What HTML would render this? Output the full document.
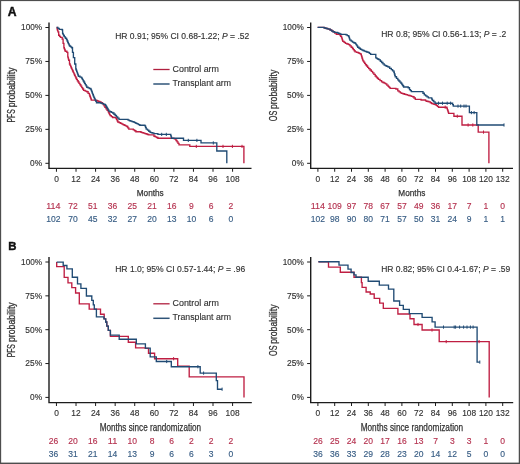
<!DOCTYPE html>
<html><head><meta charset="utf-8"><title>Kaplan-Meier curves</title>
<style>html,body{margin:0;padding:0;background:#fff;}svg{display:block;will-change:transform;} text{font-family:"Liberation Sans", sans-serif;}</style>
</head><body>
<svg width="520" height="464" viewBox="0 0 520 464">
<rect x="0" y="0" width="520" height="464" fill="#ffffff"/>
<text x="7.7" y="15.5" font-size="12.4" font-weight="bold" fill="#111" stroke="#111" stroke-width="0.45" textLength="8.8" lengthAdjust="spacingAndGlyphs">A</text>
<text x="8.3" y="250.0" font-size="11.4" font-weight="bold" fill="#111" stroke="#111" stroke-width="0.4">B</text>
<path d="M49 22.5 V168.35 H251.5" fill="none" stroke="#1c1c1c" stroke-width="1.4"/>
<line x1="45.4" y1="27.5" x2="49" y2="27.5" stroke="#1c1c1c" stroke-width="1"/>
<text x="42.1" y="30.4" font-size="8.7" fill="#333333" text-anchor="end" textLength="21" lengthAdjust="spacingAndGlyphs" stroke="#333333" stroke-width="0.15">100%</text>
<line x1="45.4" y1="61.45" x2="49" y2="61.45" stroke="#1c1c1c" stroke-width="1"/>
<text x="42.1" y="64.35" font-size="8.7" fill="#333333" text-anchor="end" textLength="16.8" lengthAdjust="spacingAndGlyphs" stroke="#333333" stroke-width="0.15">75%</text>
<line x1="45.4" y1="95.4" x2="49" y2="95.4" stroke="#1c1c1c" stroke-width="1"/>
<text x="42.1" y="98.3" font-size="8.7" fill="#333333" text-anchor="end" textLength="16.8" lengthAdjust="spacingAndGlyphs" stroke="#333333" stroke-width="0.15">50%</text>
<line x1="45.4" y1="129.35" x2="49" y2="129.35" stroke="#1c1c1c" stroke-width="1"/>
<text x="42.1" y="132.25" font-size="8.7" fill="#333333" text-anchor="end" textLength="16.8" lengthAdjust="spacingAndGlyphs" stroke="#333333" stroke-width="0.15">25%</text>
<line x1="45.4" y1="163.3" x2="49" y2="163.3" stroke="#1c1c1c" stroke-width="1"/>
<text x="42.1" y="166.2" font-size="8.7" fill="#333333" text-anchor="end" textLength="12" lengthAdjust="spacingAndGlyphs" stroke="#333333" stroke-width="0.15">0%</text>
<line x1="56.45" y1="168.35" x2="56.45" y2="171.75" stroke="#1c1c1c" stroke-width="1"/>
<text x="56.45" y="182.1" font-size="9.3" fill="#333333" text-anchor="middle" textLength="4.65" lengthAdjust="spacingAndGlyphs" stroke="#333333" stroke-width="0.15">0</text>
<text x="53.4" y="209" font-size="9.0" fill="#b53350" text-anchor="middle" textLength="14.25" lengthAdjust="spacingAndGlyphs" stroke="#b53350" stroke-width="0.15">114</text>
<text x="53.4" y="221.7" font-size="9.0" fill="#385d84" text-anchor="middle" textLength="14.25" lengthAdjust="spacingAndGlyphs" stroke="#385d84" stroke-width="0.15">102</text>
<line x1="76.02" y1="168.35" x2="76.02" y2="171.75" stroke="#1c1c1c" stroke-width="1"/>
<text x="76.02" y="182.1" font-size="9.3" fill="#333333" text-anchor="middle" textLength="9.3" lengthAdjust="spacingAndGlyphs" stroke="#333333" stroke-width="0.15">12</text>
<text x="73.12" y="209" font-size="9.0" fill="#b53350" text-anchor="middle" textLength="9.5" lengthAdjust="spacingAndGlyphs" stroke="#b53350" stroke-width="0.15">72</text>
<text x="73.12" y="221.7" font-size="9.0" fill="#385d84" text-anchor="middle" textLength="9.5" lengthAdjust="spacingAndGlyphs" stroke="#385d84" stroke-width="0.15">70</text>
<line x1="95.59" y1="168.35" x2="95.59" y2="171.75" stroke="#1c1c1c" stroke-width="1"/>
<text x="95.59" y="182.1" font-size="9.3" fill="#333333" text-anchor="middle" textLength="9.3" lengthAdjust="spacingAndGlyphs" stroke="#333333" stroke-width="0.15">24</text>
<text x="92.84" y="209" font-size="9.0" fill="#b53350" text-anchor="middle" textLength="9.5" lengthAdjust="spacingAndGlyphs" stroke="#b53350" stroke-width="0.15">51</text>
<text x="92.84" y="221.7" font-size="9.0" fill="#385d84" text-anchor="middle" textLength="9.5" lengthAdjust="spacingAndGlyphs" stroke="#385d84" stroke-width="0.15">45</text>
<line x1="115.16" y1="168.35" x2="115.16" y2="171.75" stroke="#1c1c1c" stroke-width="1"/>
<text x="115.16" y="182.1" font-size="9.3" fill="#333333" text-anchor="middle" textLength="9.3" lengthAdjust="spacingAndGlyphs" stroke="#333333" stroke-width="0.15">36</text>
<text x="112.56" y="209" font-size="9.0" fill="#b53350" text-anchor="middle" textLength="9.5" lengthAdjust="spacingAndGlyphs" stroke="#b53350" stroke-width="0.15">36</text>
<text x="112.56" y="221.7" font-size="9.0" fill="#385d84" text-anchor="middle" textLength="9.5" lengthAdjust="spacingAndGlyphs" stroke="#385d84" stroke-width="0.15">32</text>
<line x1="134.73" y1="168.35" x2="134.73" y2="171.75" stroke="#1c1c1c" stroke-width="1"/>
<text x="134.73" y="182.1" font-size="9.3" fill="#333333" text-anchor="middle" textLength="9.3" lengthAdjust="spacingAndGlyphs" stroke="#333333" stroke-width="0.15">48</text>
<text x="132.28" y="209" font-size="9.0" fill="#b53350" text-anchor="middle" textLength="9.5" lengthAdjust="spacingAndGlyphs" stroke="#b53350" stroke-width="0.15">25</text>
<text x="132.28" y="221.7" font-size="9.0" fill="#385d84" text-anchor="middle" textLength="9.5" lengthAdjust="spacingAndGlyphs" stroke="#385d84" stroke-width="0.15">27</text>
<line x1="154.3" y1="168.35" x2="154.3" y2="171.75" stroke="#1c1c1c" stroke-width="1"/>
<text x="154.3" y="182.1" font-size="9.3" fill="#333333" text-anchor="middle" textLength="9.3" lengthAdjust="spacingAndGlyphs" stroke="#333333" stroke-width="0.15">60</text>
<text x="152" y="209" font-size="9.0" fill="#b53350" text-anchor="middle" textLength="9.5" lengthAdjust="spacingAndGlyphs" stroke="#b53350" stroke-width="0.15">21</text>
<text x="152" y="221.7" font-size="9.0" fill="#385d84" text-anchor="middle" textLength="9.5" lengthAdjust="spacingAndGlyphs" stroke="#385d84" stroke-width="0.15">20</text>
<line x1="173.87" y1="168.35" x2="173.87" y2="171.75" stroke="#1c1c1c" stroke-width="1"/>
<text x="173.87" y="182.1" font-size="9.3" fill="#333333" text-anchor="middle" textLength="9.3" lengthAdjust="spacingAndGlyphs" stroke="#333333" stroke-width="0.15">72</text>
<text x="171.72" y="209" font-size="9.0" fill="#b53350" text-anchor="middle" textLength="9.5" lengthAdjust="spacingAndGlyphs" stroke="#b53350" stroke-width="0.15">16</text>
<text x="171.72" y="221.7" font-size="9.0" fill="#385d84" text-anchor="middle" textLength="9.5" lengthAdjust="spacingAndGlyphs" stroke="#385d84" stroke-width="0.15">13</text>
<line x1="193.44" y1="168.35" x2="193.44" y2="171.75" stroke="#1c1c1c" stroke-width="1"/>
<text x="193.44" y="182.1" font-size="9.3" fill="#333333" text-anchor="middle" textLength="9.3" lengthAdjust="spacingAndGlyphs" stroke="#333333" stroke-width="0.15">84</text>
<text x="191.44" y="209" font-size="9.0" fill="#b53350" text-anchor="middle" textLength="4.75" lengthAdjust="spacingAndGlyphs" stroke="#b53350" stroke-width="0.15">9</text>
<text x="191.44" y="221.7" font-size="9.0" fill="#385d84" text-anchor="middle" textLength="9.5" lengthAdjust="spacingAndGlyphs" stroke="#385d84" stroke-width="0.15">10</text>
<line x1="213.01" y1="168.35" x2="213.01" y2="171.75" stroke="#1c1c1c" stroke-width="1"/>
<text x="213.01" y="182.1" font-size="9.3" fill="#333333" text-anchor="middle" textLength="9.3" lengthAdjust="spacingAndGlyphs" stroke="#333333" stroke-width="0.15">96</text>
<text x="211.16" y="209" font-size="9.0" fill="#b53350" text-anchor="middle" textLength="4.75" lengthAdjust="spacingAndGlyphs" stroke="#b53350" stroke-width="0.15">6</text>
<text x="211.16" y="221.7" font-size="9.0" fill="#385d84" text-anchor="middle" textLength="4.75" lengthAdjust="spacingAndGlyphs" stroke="#385d84" stroke-width="0.15">6</text>
<line x1="232.58" y1="168.35" x2="232.58" y2="171.75" stroke="#1c1c1c" stroke-width="1"/>
<text x="232.58" y="182.1" font-size="9.3" fill="#333333" text-anchor="middle" textLength="13.95" lengthAdjust="spacingAndGlyphs" stroke="#333333" stroke-width="0.15">108</text>
<text x="230.88" y="209" font-size="9.0" fill="#b53350" text-anchor="middle" textLength="4.75" lengthAdjust="spacingAndGlyphs" stroke="#b53350" stroke-width="0.15">2</text>
<text x="230.88" y="221.7" font-size="9.0" fill="#385d84" text-anchor="middle" textLength="4.75" lengthAdjust="spacingAndGlyphs" stroke="#385d84" stroke-width="0.15">0</text>
<text x="136.75" y="196.2" font-size="9.8" fill="#333333" stroke="#333333" stroke-width="0.25" textLength="27" lengthAdjust="spacingAndGlyphs">Months</text>
<text transform="translate(15 122.5) rotate(-90)" x="0" y="0" font-size="10.0" fill="#333333" stroke="#333333" stroke-width="0.28" textLength="13.2" lengthAdjust="spacingAndGlyphs">PFS</text>
<text transform="translate(15 107.25) rotate(-90)" x="0" y="0" font-size="10.0" fill="#333333" stroke="#333333" stroke-width="0.28" textLength="39.8" lengthAdjust="spacingAndGlyphs">probability</text>
<text x="115.2" y="38.75" font-size="8.9" fill="#333333" textLength="134" lengthAdjust="spacingAndGlyphs" stroke="#333333" stroke-width="0.15">HR 0.91; 95% CI 0.68-1.22; <tspan font-style="italic">P</tspan> = .52</text>
<line x1="153.3" y1="69.5" x2="169.6" y2="69.5" stroke="#b0203f" stroke-width="1.3"/>
<line x1="153.3" y1="84" x2="169.6" y2="84" stroke="#2f5478" stroke-width="1.5"/>
<text x="172.5" y="71.8" font-size="9.6" fill="#333333" textLength="46.5" lengthAdjust="spacingAndGlyphs" stroke="#333333" stroke-width="0.15">Control arm</text>
<text x="172.5" y="85.8" font-size="9.6" fill="#333333" textLength="58.5" lengthAdjust="spacingAndGlyphs" stroke="#333333" stroke-width="0.15">Transplant arm</text>
<path d="M310.7 22.5 V168.35 H513" fill="none" stroke="#1c1c1c" stroke-width="1.4"/>
<line x1="307.1" y1="27.5" x2="310.7" y2="27.5" stroke="#1c1c1c" stroke-width="1"/>
<text x="303.8" y="30.4" font-size="8.7" fill="#333333" text-anchor="end" textLength="21" lengthAdjust="spacingAndGlyphs" stroke="#333333" stroke-width="0.15">100%</text>
<line x1="307.1" y1="61.45" x2="310.7" y2="61.45" stroke="#1c1c1c" stroke-width="1"/>
<text x="303.8" y="64.35" font-size="8.7" fill="#333333" text-anchor="end" textLength="16.8" lengthAdjust="spacingAndGlyphs" stroke="#333333" stroke-width="0.15">75%</text>
<line x1="307.1" y1="95.4" x2="310.7" y2="95.4" stroke="#1c1c1c" stroke-width="1"/>
<text x="303.8" y="98.3" font-size="8.7" fill="#333333" text-anchor="end" textLength="16.8" lengthAdjust="spacingAndGlyphs" stroke="#333333" stroke-width="0.15">50%</text>
<line x1="307.1" y1="129.35" x2="310.7" y2="129.35" stroke="#1c1c1c" stroke-width="1"/>
<text x="303.8" y="132.25" font-size="8.7" fill="#333333" text-anchor="end" textLength="16.8" lengthAdjust="spacingAndGlyphs" stroke="#333333" stroke-width="0.15">25%</text>
<line x1="307.1" y1="163.3" x2="310.7" y2="163.3" stroke="#1c1c1c" stroke-width="1"/>
<text x="303.8" y="166.2" font-size="8.7" fill="#333333" text-anchor="end" textLength="12" lengthAdjust="spacingAndGlyphs" stroke="#333333" stroke-width="0.15">0%</text>
<line x1="317.9" y1="168.35" x2="317.9" y2="171.75" stroke="#1c1c1c" stroke-width="1"/>
<text x="317.9" y="182.1" font-size="9.3" fill="#333333" text-anchor="middle" textLength="4.65" lengthAdjust="spacingAndGlyphs" stroke="#333333" stroke-width="0.15">0</text>
<text x="317.9" y="209.1" font-size="9.0" fill="#b53350" text-anchor="middle" textLength="14.25" lengthAdjust="spacingAndGlyphs" stroke="#b53350" stroke-width="0.15">114</text>
<text x="317.9" y="221.8" font-size="9.0" fill="#385d84" text-anchor="middle" textLength="14.25" lengthAdjust="spacingAndGlyphs" stroke="#385d84" stroke-width="0.15">102</text>
<line x1="334.7" y1="168.35" x2="334.7" y2="171.75" stroke="#1c1c1c" stroke-width="1"/>
<text x="334.7" y="182.1" font-size="9.3" fill="#333333" text-anchor="middle" textLength="9.3" lengthAdjust="spacingAndGlyphs" stroke="#333333" stroke-width="0.15">12</text>
<text x="334.7" y="209.1" font-size="9.0" fill="#b53350" text-anchor="middle" textLength="14.25" lengthAdjust="spacingAndGlyphs" stroke="#b53350" stroke-width="0.15">109</text>
<text x="334.7" y="221.8" font-size="9.0" fill="#385d84" text-anchor="middle" textLength="9.5" lengthAdjust="spacingAndGlyphs" stroke="#385d84" stroke-width="0.15">98</text>
<line x1="351.5" y1="168.35" x2="351.5" y2="171.75" stroke="#1c1c1c" stroke-width="1"/>
<text x="351.5" y="182.1" font-size="9.3" fill="#333333" text-anchor="middle" textLength="9.3" lengthAdjust="spacingAndGlyphs" stroke="#333333" stroke-width="0.15">24</text>
<text x="351.5" y="209.1" font-size="9.0" fill="#b53350" text-anchor="middle" textLength="9.5" lengthAdjust="spacingAndGlyphs" stroke="#b53350" stroke-width="0.15">97</text>
<text x="351.5" y="221.8" font-size="9.0" fill="#385d84" text-anchor="middle" textLength="9.5" lengthAdjust="spacingAndGlyphs" stroke="#385d84" stroke-width="0.15">90</text>
<line x1="368.3" y1="168.35" x2="368.3" y2="171.75" stroke="#1c1c1c" stroke-width="1"/>
<text x="368.3" y="182.1" font-size="9.3" fill="#333333" text-anchor="middle" textLength="9.3" lengthAdjust="spacingAndGlyphs" stroke="#333333" stroke-width="0.15">36</text>
<text x="368.3" y="209.1" font-size="9.0" fill="#b53350" text-anchor="middle" textLength="9.5" lengthAdjust="spacingAndGlyphs" stroke="#b53350" stroke-width="0.15">78</text>
<text x="368.3" y="221.8" font-size="9.0" fill="#385d84" text-anchor="middle" textLength="9.5" lengthAdjust="spacingAndGlyphs" stroke="#385d84" stroke-width="0.15">80</text>
<line x1="385.1" y1="168.35" x2="385.1" y2="171.75" stroke="#1c1c1c" stroke-width="1"/>
<text x="385.1" y="182.1" font-size="9.3" fill="#333333" text-anchor="middle" textLength="9.3" lengthAdjust="spacingAndGlyphs" stroke="#333333" stroke-width="0.15">48</text>
<text x="385.1" y="209.1" font-size="9.0" fill="#b53350" text-anchor="middle" textLength="9.5" lengthAdjust="spacingAndGlyphs" stroke="#b53350" stroke-width="0.15">67</text>
<text x="385.1" y="221.8" font-size="9.0" fill="#385d84" text-anchor="middle" textLength="9.5" lengthAdjust="spacingAndGlyphs" stroke="#385d84" stroke-width="0.15">71</text>
<line x1="401.9" y1="168.35" x2="401.9" y2="171.75" stroke="#1c1c1c" stroke-width="1"/>
<text x="401.9" y="182.1" font-size="9.3" fill="#333333" text-anchor="middle" textLength="9.3" lengthAdjust="spacingAndGlyphs" stroke="#333333" stroke-width="0.15">60</text>
<text x="401.9" y="209.1" font-size="9.0" fill="#b53350" text-anchor="middle" textLength="9.5" lengthAdjust="spacingAndGlyphs" stroke="#b53350" stroke-width="0.15">57</text>
<text x="401.9" y="221.8" font-size="9.0" fill="#385d84" text-anchor="middle" textLength="9.5" lengthAdjust="spacingAndGlyphs" stroke="#385d84" stroke-width="0.15">57</text>
<line x1="418.7" y1="168.35" x2="418.7" y2="171.75" stroke="#1c1c1c" stroke-width="1"/>
<text x="418.7" y="182.1" font-size="9.3" fill="#333333" text-anchor="middle" textLength="9.3" lengthAdjust="spacingAndGlyphs" stroke="#333333" stroke-width="0.15">72</text>
<text x="418.7" y="209.1" font-size="9.0" fill="#b53350" text-anchor="middle" textLength="9.5" lengthAdjust="spacingAndGlyphs" stroke="#b53350" stroke-width="0.15">49</text>
<text x="418.7" y="221.8" font-size="9.0" fill="#385d84" text-anchor="middle" textLength="9.5" lengthAdjust="spacingAndGlyphs" stroke="#385d84" stroke-width="0.15">50</text>
<line x1="435.5" y1="168.35" x2="435.5" y2="171.75" stroke="#1c1c1c" stroke-width="1"/>
<text x="435.5" y="182.1" font-size="9.3" fill="#333333" text-anchor="middle" textLength="9.3" lengthAdjust="spacingAndGlyphs" stroke="#333333" stroke-width="0.15">84</text>
<text x="435.5" y="209.1" font-size="9.0" fill="#b53350" text-anchor="middle" textLength="9.5" lengthAdjust="spacingAndGlyphs" stroke="#b53350" stroke-width="0.15">36</text>
<text x="435.5" y="221.8" font-size="9.0" fill="#385d84" text-anchor="middle" textLength="9.5" lengthAdjust="spacingAndGlyphs" stroke="#385d84" stroke-width="0.15">31</text>
<line x1="452.3" y1="168.35" x2="452.3" y2="171.75" stroke="#1c1c1c" stroke-width="1"/>
<text x="452.3" y="182.1" font-size="9.3" fill="#333333" text-anchor="middle" textLength="9.3" lengthAdjust="spacingAndGlyphs" stroke="#333333" stroke-width="0.15">96</text>
<text x="452.3" y="209.1" font-size="9.0" fill="#b53350" text-anchor="middle" textLength="9.5" lengthAdjust="spacingAndGlyphs" stroke="#b53350" stroke-width="0.15">17</text>
<text x="452.3" y="221.8" font-size="9.0" fill="#385d84" text-anchor="middle" textLength="9.5" lengthAdjust="spacingAndGlyphs" stroke="#385d84" stroke-width="0.15">24</text>
<line x1="469.1" y1="168.35" x2="469.1" y2="171.75" stroke="#1c1c1c" stroke-width="1"/>
<text x="469.1" y="182.1" font-size="9.3" fill="#333333" text-anchor="middle" textLength="13.95" lengthAdjust="spacingAndGlyphs" stroke="#333333" stroke-width="0.15">108</text>
<text x="469.1" y="209.1" font-size="9.0" fill="#b53350" text-anchor="middle" textLength="4.75" lengthAdjust="spacingAndGlyphs" stroke="#b53350" stroke-width="0.15">7</text>
<text x="469.1" y="221.8" font-size="9.0" fill="#385d84" text-anchor="middle" textLength="4.75" lengthAdjust="spacingAndGlyphs" stroke="#385d84" stroke-width="0.15">9</text>
<line x1="485.9" y1="168.35" x2="485.9" y2="171.75" stroke="#1c1c1c" stroke-width="1"/>
<text x="485.9" y="182.1" font-size="9.3" fill="#333333" text-anchor="middle" textLength="13.95" lengthAdjust="spacingAndGlyphs" stroke="#333333" stroke-width="0.15">120</text>
<text x="485.9" y="209.1" font-size="9.0" fill="#b53350" text-anchor="middle" textLength="4.75" lengthAdjust="spacingAndGlyphs" stroke="#b53350" stroke-width="0.15">1</text>
<text x="485.9" y="221.8" font-size="9.0" fill="#385d84" text-anchor="middle" textLength="4.75" lengthAdjust="spacingAndGlyphs" stroke="#385d84" stroke-width="0.15">1</text>
<line x1="502.7" y1="168.35" x2="502.7" y2="171.75" stroke="#1c1c1c" stroke-width="1"/>
<text x="502.7" y="182.1" font-size="9.3" fill="#333333" text-anchor="middle" textLength="13.95" lengthAdjust="spacingAndGlyphs" stroke="#333333" stroke-width="0.15">132</text>
<text x="502.7" y="209.1" font-size="9.0" fill="#b53350" text-anchor="middle" textLength="4.75" lengthAdjust="spacingAndGlyphs" stroke="#b53350" stroke-width="0.15">0</text>
<text x="502.7" y="221.8" font-size="9.0" fill="#385d84" text-anchor="middle" textLength="4.75" lengthAdjust="spacingAndGlyphs" stroke="#385d84" stroke-width="0.15">1</text>
<text x="398.35" y="196.2" font-size="9.8" fill="#333333" stroke="#333333" stroke-width="0.25" textLength="27" lengthAdjust="spacingAndGlyphs">Months</text>
<text transform="translate(277.1 121.2) rotate(-90)" x="0" y="0" font-size="10.0" fill="#333333" stroke="#333333" stroke-width="0.28" textLength="10.5" lengthAdjust="spacingAndGlyphs">OS</text>
<text transform="translate(277.1 109.05) rotate(-90)" x="0" y="0" font-size="10.0" fill="#333333" stroke="#333333" stroke-width="0.28" textLength="39.3" lengthAdjust="spacingAndGlyphs">probability</text>
<text x="381.2" y="36.95" font-size="8.9" fill="#333333" textLength="125" lengthAdjust="spacingAndGlyphs" stroke="#333333" stroke-width="0.15">HR 0.8; 95% CI 0.56-1.13; <tspan font-style="italic">P</tspan> = .2</text>
<path d="M49 257.1 V402.6 H251.8" fill="none" stroke="#1c1c1c" stroke-width="1.4"/>
<line x1="45.4" y1="262" x2="49" y2="262" stroke="#1c1c1c" stroke-width="1"/>
<text x="42.1" y="264.9" font-size="8.7" fill="#333333" text-anchor="end" textLength="21" lengthAdjust="spacingAndGlyphs" stroke="#333333" stroke-width="0.15">100%</text>
<line x1="45.4" y1="295.85" x2="49" y2="295.85" stroke="#1c1c1c" stroke-width="1"/>
<text x="42.1" y="298.75" font-size="8.7" fill="#333333" text-anchor="end" textLength="16.8" lengthAdjust="spacingAndGlyphs" stroke="#333333" stroke-width="0.15">75%</text>
<line x1="45.4" y1="329.7" x2="49" y2="329.7" stroke="#1c1c1c" stroke-width="1"/>
<text x="42.1" y="332.6" font-size="8.7" fill="#333333" text-anchor="end" textLength="16.8" lengthAdjust="spacingAndGlyphs" stroke="#333333" stroke-width="0.15">50%</text>
<line x1="45.4" y1="363.55" x2="49" y2="363.55" stroke="#1c1c1c" stroke-width="1"/>
<text x="42.1" y="366.45" font-size="8.7" fill="#333333" text-anchor="end" textLength="16.8" lengthAdjust="spacingAndGlyphs" stroke="#333333" stroke-width="0.15">25%</text>
<line x1="45.4" y1="397.4" x2="49" y2="397.4" stroke="#1c1c1c" stroke-width="1"/>
<text x="42.1" y="400.3" font-size="8.7" fill="#333333" text-anchor="end" textLength="12" lengthAdjust="spacingAndGlyphs" stroke="#333333" stroke-width="0.15">0%</text>
<line x1="56.45" y1="402.6" x2="56.45" y2="406" stroke="#1c1c1c" stroke-width="1"/>
<text x="56.45" y="416.2" font-size="9.3" fill="#333333" text-anchor="middle" textLength="4.65" lengthAdjust="spacingAndGlyphs" stroke="#333333" stroke-width="0.15">0</text>
<text x="53.4" y="443.5" font-size="9.0" fill="#b53350" text-anchor="middle" textLength="9.5" lengthAdjust="spacingAndGlyphs" stroke="#b53350" stroke-width="0.15">26</text>
<text x="53.4" y="456.8" font-size="9.0" fill="#385d84" text-anchor="middle" textLength="9.5" lengthAdjust="spacingAndGlyphs" stroke="#385d84" stroke-width="0.15">36</text>
<line x1="76.02" y1="402.6" x2="76.02" y2="406" stroke="#1c1c1c" stroke-width="1"/>
<text x="76.02" y="416.2" font-size="9.3" fill="#333333" text-anchor="middle" textLength="9.3" lengthAdjust="spacingAndGlyphs" stroke="#333333" stroke-width="0.15">12</text>
<text x="73.12" y="443.5" font-size="9.0" fill="#b53350" text-anchor="middle" textLength="9.5" lengthAdjust="spacingAndGlyphs" stroke="#b53350" stroke-width="0.15">20</text>
<text x="73.12" y="456.8" font-size="9.0" fill="#385d84" text-anchor="middle" textLength="9.5" lengthAdjust="spacingAndGlyphs" stroke="#385d84" stroke-width="0.15">31</text>
<line x1="95.59" y1="402.6" x2="95.59" y2="406" stroke="#1c1c1c" stroke-width="1"/>
<text x="95.59" y="416.2" font-size="9.3" fill="#333333" text-anchor="middle" textLength="9.3" lengthAdjust="spacingAndGlyphs" stroke="#333333" stroke-width="0.15">24</text>
<text x="92.84" y="443.5" font-size="9.0" fill="#b53350" text-anchor="middle" textLength="9.5" lengthAdjust="spacingAndGlyphs" stroke="#b53350" stroke-width="0.15">16</text>
<text x="92.84" y="456.8" font-size="9.0" fill="#385d84" text-anchor="middle" textLength="9.5" lengthAdjust="spacingAndGlyphs" stroke="#385d84" stroke-width="0.15">21</text>
<line x1="115.16" y1="402.6" x2="115.16" y2="406" stroke="#1c1c1c" stroke-width="1"/>
<text x="115.16" y="416.2" font-size="9.3" fill="#333333" text-anchor="middle" textLength="9.3" lengthAdjust="spacingAndGlyphs" stroke="#333333" stroke-width="0.15">36</text>
<text x="112.56" y="443.5" font-size="9.0" fill="#b53350" text-anchor="middle" textLength="9.5" lengthAdjust="spacingAndGlyphs" stroke="#b53350" stroke-width="0.15">11</text>
<text x="112.56" y="456.8" font-size="9.0" fill="#385d84" text-anchor="middle" textLength="9.5" lengthAdjust="spacingAndGlyphs" stroke="#385d84" stroke-width="0.15">14</text>
<line x1="134.73" y1="402.6" x2="134.73" y2="406" stroke="#1c1c1c" stroke-width="1"/>
<text x="134.73" y="416.2" font-size="9.3" fill="#333333" text-anchor="middle" textLength="9.3" lengthAdjust="spacingAndGlyphs" stroke="#333333" stroke-width="0.15">48</text>
<text x="132.28" y="443.5" font-size="9.0" fill="#b53350" text-anchor="middle" textLength="9.5" lengthAdjust="spacingAndGlyphs" stroke="#b53350" stroke-width="0.15">10</text>
<text x="132.28" y="456.8" font-size="9.0" fill="#385d84" text-anchor="middle" textLength="9.5" lengthAdjust="spacingAndGlyphs" stroke="#385d84" stroke-width="0.15">13</text>
<line x1="154.3" y1="402.6" x2="154.3" y2="406" stroke="#1c1c1c" stroke-width="1"/>
<text x="154.3" y="416.2" font-size="9.3" fill="#333333" text-anchor="middle" textLength="9.3" lengthAdjust="spacingAndGlyphs" stroke="#333333" stroke-width="0.15">60</text>
<text x="152" y="443.5" font-size="9.0" fill="#b53350" text-anchor="middle" textLength="4.75" lengthAdjust="spacingAndGlyphs" stroke="#b53350" stroke-width="0.15">8</text>
<text x="152" y="456.8" font-size="9.0" fill="#385d84" text-anchor="middle" textLength="4.75" lengthAdjust="spacingAndGlyphs" stroke="#385d84" stroke-width="0.15">9</text>
<line x1="173.87" y1="402.6" x2="173.87" y2="406" stroke="#1c1c1c" stroke-width="1"/>
<text x="173.87" y="416.2" font-size="9.3" fill="#333333" text-anchor="middle" textLength="9.3" lengthAdjust="spacingAndGlyphs" stroke="#333333" stroke-width="0.15">72</text>
<text x="171.72" y="443.5" font-size="9.0" fill="#b53350" text-anchor="middle" textLength="4.75" lengthAdjust="spacingAndGlyphs" stroke="#b53350" stroke-width="0.15">6</text>
<text x="171.72" y="456.8" font-size="9.0" fill="#385d84" text-anchor="middle" textLength="4.75" lengthAdjust="spacingAndGlyphs" stroke="#385d84" stroke-width="0.15">6</text>
<line x1="193.44" y1="402.6" x2="193.44" y2="406" stroke="#1c1c1c" stroke-width="1"/>
<text x="193.44" y="416.2" font-size="9.3" fill="#333333" text-anchor="middle" textLength="9.3" lengthAdjust="spacingAndGlyphs" stroke="#333333" stroke-width="0.15">84</text>
<text x="191.44" y="443.5" font-size="9.0" fill="#b53350" text-anchor="middle" textLength="4.75" lengthAdjust="spacingAndGlyphs" stroke="#b53350" stroke-width="0.15">2</text>
<text x="191.44" y="456.8" font-size="9.0" fill="#385d84" text-anchor="middle" textLength="4.75" lengthAdjust="spacingAndGlyphs" stroke="#385d84" stroke-width="0.15">6</text>
<line x1="213.01" y1="402.6" x2="213.01" y2="406" stroke="#1c1c1c" stroke-width="1"/>
<text x="213.01" y="416.2" font-size="9.3" fill="#333333" text-anchor="middle" textLength="9.3" lengthAdjust="spacingAndGlyphs" stroke="#333333" stroke-width="0.15">96</text>
<text x="211.16" y="443.5" font-size="9.0" fill="#b53350" text-anchor="middle" textLength="4.75" lengthAdjust="spacingAndGlyphs" stroke="#b53350" stroke-width="0.15">2</text>
<text x="211.16" y="456.8" font-size="9.0" fill="#385d84" text-anchor="middle" textLength="4.75" lengthAdjust="spacingAndGlyphs" stroke="#385d84" stroke-width="0.15">3</text>
<line x1="232.58" y1="402.6" x2="232.58" y2="406" stroke="#1c1c1c" stroke-width="1"/>
<text x="232.58" y="416.2" font-size="9.3" fill="#333333" text-anchor="middle" textLength="13.95" lengthAdjust="spacingAndGlyphs" stroke="#333333" stroke-width="0.15">108</text>
<text x="230.88" y="443.5" font-size="9.0" fill="#b53350" text-anchor="middle" textLength="4.75" lengthAdjust="spacingAndGlyphs" stroke="#b53350" stroke-width="0.15">2</text>
<text x="230.88" y="456.8" font-size="9.0" fill="#385d84" text-anchor="middle" textLength="4.75" lengthAdjust="spacingAndGlyphs" stroke="#385d84" stroke-width="0.15">0</text>
<text x="99.7" y="430.6" font-size="10.3" fill="#333333" stroke="#333333" stroke-width="0.25" textLength="101.4" lengthAdjust="spacingAndGlyphs">Months since randomization</text>
<text transform="translate(15 357.3) rotate(-90)" x="0" y="0" font-size="10.0" fill="#333333" stroke="#333333" stroke-width="0.28" textLength="13.2" lengthAdjust="spacingAndGlyphs">PFS</text>
<text transform="translate(15 342.05) rotate(-90)" x="0" y="0" font-size="10.0" fill="#333333" stroke="#333333" stroke-width="0.28" textLength="39.8" lengthAdjust="spacingAndGlyphs">probability</text>
<text x="115.2" y="271.75" font-size="8.9" fill="#333333" textLength="130" lengthAdjust="spacingAndGlyphs" stroke="#333333" stroke-width="0.15">HR 1.0; 95% CI 0.57-1.44; <tspan font-style="italic">P</tspan> = .96</text>
<line x1="153.3" y1="303.8" x2="169.6" y2="303.8" stroke="#b0203f" stroke-width="1.3"/>
<line x1="153.3" y1="318.3" x2="169.6" y2="318.3" stroke="#2f5478" stroke-width="1.5"/>
<text x="172.5" y="306.1" font-size="9.6" fill="#333333" textLength="46.5" lengthAdjust="spacingAndGlyphs" stroke="#333333" stroke-width="0.15">Control arm</text>
<text x="172.5" y="320.1" font-size="9.6" fill="#333333" textLength="58.5" lengthAdjust="spacingAndGlyphs" stroke="#333333" stroke-width="0.15">Transplant arm</text>
<path d="M310.7 257.1 V402.6 H513.2" fill="none" stroke="#1c1c1c" stroke-width="1.4"/>
<line x1="307.1" y1="262" x2="310.7" y2="262" stroke="#1c1c1c" stroke-width="1"/>
<text x="303.8" y="264.9" font-size="8.7" fill="#333333" text-anchor="end" textLength="21" lengthAdjust="spacingAndGlyphs" stroke="#333333" stroke-width="0.15">100%</text>
<line x1="307.1" y1="295.85" x2="310.7" y2="295.85" stroke="#1c1c1c" stroke-width="1"/>
<text x="303.8" y="298.75" font-size="8.7" fill="#333333" text-anchor="end" textLength="16.8" lengthAdjust="spacingAndGlyphs" stroke="#333333" stroke-width="0.15">75%</text>
<line x1="307.1" y1="329.7" x2="310.7" y2="329.7" stroke="#1c1c1c" stroke-width="1"/>
<text x="303.8" y="332.6" font-size="8.7" fill="#333333" text-anchor="end" textLength="16.8" lengthAdjust="spacingAndGlyphs" stroke="#333333" stroke-width="0.15">50%</text>
<line x1="307.1" y1="363.55" x2="310.7" y2="363.55" stroke="#1c1c1c" stroke-width="1"/>
<text x="303.8" y="366.45" font-size="8.7" fill="#333333" text-anchor="end" textLength="16.8" lengthAdjust="spacingAndGlyphs" stroke="#333333" stroke-width="0.15">25%</text>
<line x1="307.1" y1="397.4" x2="310.7" y2="397.4" stroke="#1c1c1c" stroke-width="1"/>
<text x="303.8" y="400.3" font-size="8.7" fill="#333333" text-anchor="end" textLength="12" lengthAdjust="spacingAndGlyphs" stroke="#333333" stroke-width="0.15">0%</text>
<line x1="317.9" y1="402.6" x2="317.9" y2="406" stroke="#1c1c1c" stroke-width="1"/>
<text x="317.9" y="416.2" font-size="9.3" fill="#333333" text-anchor="middle" textLength="4.65" lengthAdjust="spacingAndGlyphs" stroke="#333333" stroke-width="0.15">0</text>
<text x="317.9" y="443.5" font-size="9.0" fill="#b53350" text-anchor="middle" textLength="9.5" lengthAdjust="spacingAndGlyphs" stroke="#b53350" stroke-width="0.15">26</text>
<text x="317.9" y="456.8" font-size="9.0" fill="#385d84" text-anchor="middle" textLength="9.5" lengthAdjust="spacingAndGlyphs" stroke="#385d84" stroke-width="0.15">36</text>
<line x1="334.7" y1="402.6" x2="334.7" y2="406" stroke="#1c1c1c" stroke-width="1"/>
<text x="334.7" y="416.2" font-size="9.3" fill="#333333" text-anchor="middle" textLength="9.3" lengthAdjust="spacingAndGlyphs" stroke="#333333" stroke-width="0.15">12</text>
<text x="334.7" y="443.5" font-size="9.0" fill="#b53350" text-anchor="middle" textLength="9.5" lengthAdjust="spacingAndGlyphs" stroke="#b53350" stroke-width="0.15">25</text>
<text x="334.7" y="456.8" font-size="9.0" fill="#385d84" text-anchor="middle" textLength="9.5" lengthAdjust="spacingAndGlyphs" stroke="#385d84" stroke-width="0.15">36</text>
<line x1="351.5" y1="402.6" x2="351.5" y2="406" stroke="#1c1c1c" stroke-width="1"/>
<text x="351.5" y="416.2" font-size="9.3" fill="#333333" text-anchor="middle" textLength="9.3" lengthAdjust="spacingAndGlyphs" stroke="#333333" stroke-width="0.15">24</text>
<text x="351.5" y="443.5" font-size="9.0" fill="#b53350" text-anchor="middle" textLength="9.5" lengthAdjust="spacingAndGlyphs" stroke="#b53350" stroke-width="0.15">24</text>
<text x="351.5" y="456.8" font-size="9.0" fill="#385d84" text-anchor="middle" textLength="9.5" lengthAdjust="spacingAndGlyphs" stroke="#385d84" stroke-width="0.15">33</text>
<line x1="368.3" y1="402.6" x2="368.3" y2="406" stroke="#1c1c1c" stroke-width="1"/>
<text x="368.3" y="416.2" font-size="9.3" fill="#333333" text-anchor="middle" textLength="9.3" lengthAdjust="spacingAndGlyphs" stroke="#333333" stroke-width="0.15">36</text>
<text x="368.3" y="443.5" font-size="9.0" fill="#b53350" text-anchor="middle" textLength="9.5" lengthAdjust="spacingAndGlyphs" stroke="#b53350" stroke-width="0.15">20</text>
<text x="368.3" y="456.8" font-size="9.0" fill="#385d84" text-anchor="middle" textLength="9.5" lengthAdjust="spacingAndGlyphs" stroke="#385d84" stroke-width="0.15">29</text>
<line x1="385.1" y1="402.6" x2="385.1" y2="406" stroke="#1c1c1c" stroke-width="1"/>
<text x="385.1" y="416.2" font-size="9.3" fill="#333333" text-anchor="middle" textLength="9.3" lengthAdjust="spacingAndGlyphs" stroke="#333333" stroke-width="0.15">48</text>
<text x="385.1" y="443.5" font-size="9.0" fill="#b53350" text-anchor="middle" textLength="9.5" lengthAdjust="spacingAndGlyphs" stroke="#b53350" stroke-width="0.15">17</text>
<text x="385.1" y="456.8" font-size="9.0" fill="#385d84" text-anchor="middle" textLength="9.5" lengthAdjust="spacingAndGlyphs" stroke="#385d84" stroke-width="0.15">28</text>
<line x1="401.9" y1="402.6" x2="401.9" y2="406" stroke="#1c1c1c" stroke-width="1"/>
<text x="401.9" y="416.2" font-size="9.3" fill="#333333" text-anchor="middle" textLength="9.3" lengthAdjust="spacingAndGlyphs" stroke="#333333" stroke-width="0.15">60</text>
<text x="401.9" y="443.5" font-size="9.0" fill="#b53350" text-anchor="middle" textLength="9.5" lengthAdjust="spacingAndGlyphs" stroke="#b53350" stroke-width="0.15">16</text>
<text x="401.9" y="456.8" font-size="9.0" fill="#385d84" text-anchor="middle" textLength="9.5" lengthAdjust="spacingAndGlyphs" stroke="#385d84" stroke-width="0.15">23</text>
<line x1="418.7" y1="402.6" x2="418.7" y2="406" stroke="#1c1c1c" stroke-width="1"/>
<text x="418.7" y="416.2" font-size="9.3" fill="#333333" text-anchor="middle" textLength="9.3" lengthAdjust="spacingAndGlyphs" stroke="#333333" stroke-width="0.15">72</text>
<text x="418.7" y="443.5" font-size="9.0" fill="#b53350" text-anchor="middle" textLength="9.5" lengthAdjust="spacingAndGlyphs" stroke="#b53350" stroke-width="0.15">13</text>
<text x="418.7" y="456.8" font-size="9.0" fill="#385d84" text-anchor="middle" textLength="9.5" lengthAdjust="spacingAndGlyphs" stroke="#385d84" stroke-width="0.15">20</text>
<line x1="435.5" y1="402.6" x2="435.5" y2="406" stroke="#1c1c1c" stroke-width="1"/>
<text x="435.5" y="416.2" font-size="9.3" fill="#333333" text-anchor="middle" textLength="9.3" lengthAdjust="spacingAndGlyphs" stroke="#333333" stroke-width="0.15">84</text>
<text x="435.5" y="443.5" font-size="9.0" fill="#b53350" text-anchor="middle" textLength="4.75" lengthAdjust="spacingAndGlyphs" stroke="#b53350" stroke-width="0.15">7</text>
<text x="435.5" y="456.8" font-size="9.0" fill="#385d84" text-anchor="middle" textLength="9.5" lengthAdjust="spacingAndGlyphs" stroke="#385d84" stroke-width="0.15">14</text>
<line x1="452.3" y1="402.6" x2="452.3" y2="406" stroke="#1c1c1c" stroke-width="1"/>
<text x="452.3" y="416.2" font-size="9.3" fill="#333333" text-anchor="middle" textLength="9.3" lengthAdjust="spacingAndGlyphs" stroke="#333333" stroke-width="0.15">96</text>
<text x="452.3" y="443.5" font-size="9.0" fill="#b53350" text-anchor="middle" textLength="4.75" lengthAdjust="spacingAndGlyphs" stroke="#b53350" stroke-width="0.15">3</text>
<text x="452.3" y="456.8" font-size="9.0" fill="#385d84" text-anchor="middle" textLength="9.5" lengthAdjust="spacingAndGlyphs" stroke="#385d84" stroke-width="0.15">12</text>
<line x1="469.1" y1="402.6" x2="469.1" y2="406" stroke="#1c1c1c" stroke-width="1"/>
<text x="469.1" y="416.2" font-size="9.3" fill="#333333" text-anchor="middle" textLength="13.95" lengthAdjust="spacingAndGlyphs" stroke="#333333" stroke-width="0.15">108</text>
<text x="469.1" y="443.5" font-size="9.0" fill="#b53350" text-anchor="middle" textLength="4.75" lengthAdjust="spacingAndGlyphs" stroke="#b53350" stroke-width="0.15">3</text>
<text x="469.1" y="456.8" font-size="9.0" fill="#385d84" text-anchor="middle" textLength="4.75" lengthAdjust="spacingAndGlyphs" stroke="#385d84" stroke-width="0.15">5</text>
<line x1="485.9" y1="402.6" x2="485.9" y2="406" stroke="#1c1c1c" stroke-width="1"/>
<text x="485.9" y="416.2" font-size="9.3" fill="#333333" text-anchor="middle" textLength="13.95" lengthAdjust="spacingAndGlyphs" stroke="#333333" stroke-width="0.15">120</text>
<text x="485.9" y="443.5" font-size="9.0" fill="#b53350" text-anchor="middle" textLength="4.75" lengthAdjust="spacingAndGlyphs" stroke="#b53350" stroke-width="0.15">1</text>
<text x="485.9" y="456.8" font-size="9.0" fill="#385d84" text-anchor="middle" textLength="4.75" lengthAdjust="spacingAndGlyphs" stroke="#385d84" stroke-width="0.15">0</text>
<line x1="502.7" y1="402.6" x2="502.7" y2="406" stroke="#1c1c1c" stroke-width="1"/>
<text x="502.7" y="416.2" font-size="9.3" fill="#333333" text-anchor="middle" textLength="13.95" lengthAdjust="spacingAndGlyphs" stroke="#333333" stroke-width="0.15">132</text>
<text x="502.7" y="443.5" font-size="9.0" fill="#b53350" text-anchor="middle" textLength="4.75" lengthAdjust="spacingAndGlyphs" stroke="#b53350" stroke-width="0.15">0</text>
<text x="502.7" y="456.8" font-size="9.0" fill="#385d84" text-anchor="middle" textLength="4.75" lengthAdjust="spacingAndGlyphs" stroke="#385d84" stroke-width="0.15">0</text>
<text x="360.7" y="430.6" font-size="10.3" fill="#333333" stroke="#333333" stroke-width="0.25" textLength="102.5" lengthAdjust="spacingAndGlyphs">Months since randomization</text>
<text transform="translate(277.1 356) rotate(-90)" x="0" y="0" font-size="10.0" fill="#333333" stroke="#333333" stroke-width="0.28" textLength="10.5" lengthAdjust="spacingAndGlyphs">OS</text>
<text transform="translate(277.1 343.85) rotate(-90)" x="0" y="0" font-size="10.0" fill="#333333" stroke="#333333" stroke-width="0.28" textLength="39.3" lengthAdjust="spacingAndGlyphs">probability</text>
<text x="381.2" y="271.55" font-size="8.9" fill="#333333" textLength="129" lengthAdjust="spacingAndGlyphs" stroke="#333333" stroke-width="0.15">HR 0.82; 95% CI 0.4-1.67; <tspan font-style="italic">P</tspan> = .59</text>
<path d="M56.6 27.4 H57.03 V28.87 H57.47 V30.33 H57.9 V31.8 H58.7 V35.2 H59.6 V36.3 H60.5 V37.4 H62.2 V39.1 H63.1 V43.4 H63.9 V47.7 H64.33 V48.87 H64.77 V50.03 H65.2 V51.2 H66.9 V52.4 H67.8 V56.8 H68.1 V57.93 H68.4 V59.07 H68.7 V60.2 H69.5 V64 H70.12 V65.4 H70.74 V66.8 H71.36 V68.2 H71.98 V69.6 H72.6 V71 H73.25 V72.4 H73.9 V73.8 H74.55 V75.2 H75.2 V76.6 H75.85 V78 H76.5 V79.4 H77.33 V80.7 H78.17 V82 H79 V83.3 H79.92 V84.72 H80.84 V86.14 H81.76 V87.56 H82.68 V88.98 H83.6 V90.4 H85.2 V91.05 H86.8 V91.7 H88.1 V93.3 H89.4 V94.9 H89.88 V96.2 H90.35 V97.5 H90.83 V98.8 H91.3 V100.1 H94.6 H95.9 V100.53 H97.2 V100.97 H98.5 V101.4 H99.77 V102.03 H101.03 V102.67 H102.3 V103.3 H103.17 V104.6 H104.03 V105.9 H104.9 V107.2 H106 V108.7 H107.1 V110.2 H108.2 V111.7 H108.83 V113 H109.47 V114.3 H110.1 V115.6 H111.35 V116.55 H112.6 V117.5 H115.8 V118.1 H116.47 V119.4 H117.13 V120.7 H117.8 V122 H119.07 V122.63 H120.33 V123.27 H121.6 V123.9 H122.9 V124.55 H124.2 V125.2 H125.5 V125.85 H126.8 V126.5 H127.8 V127.8 H128.8 V129.1 H133.3 V129.8 H134.6 V130.75 H135.9 V131.7 H141 V132.3 H142.3 V132.73 H143.6 V133.17 H144.9 V133.6 H146.2 V134.03 H147.5 V134.47 H148.8 V134.9 H154 V136.2 H155.3 V136.87 H156.6 V137.53 H157.9 V138.2 H172.7 H173.85 V138.6 H175 V139 H176 V140.45 H177 V141.9 H178 V143.35 H179 V144.8 H188.8 H189.8 V146.4 H243.9 V163.3" fill="none" stroke="#bf1e42" stroke-width="1.35" stroke-linejoin="miter" stroke-linecap="butt"/>
<path d="M56.6 27.4 H57.9 V28.35 H59.2 V29.3 H62.2 V30 H62.6 V33.5 H63.17 V34.63 H63.73 V35.77 H64.3 V36.9 H65.4 V38.2 H66.5 V39.5 H67.15 V41 H67.8 V42.5 H68.37 V43.67 H68.93 V44.83 H69.5 V46 H70.6 V46.85 H71.7 V47.7 H72.5 V52.4 H73.4 V57.6 H74.7 V64 H75.8 V69 H76.23 V70.2 H76.67 V71.4 H77.1 V72.6 H77.53 V73.8 H77.97 V75 H78.4 V76.2 H80 V77.15 H81.6 V78.1 H82.34 V79.4 H83.09 V80.7 H83.83 V82 H84.57 V83.3 H85.31 V84.6 H86.06 V85.9 H86.8 V87.2 H88.1 V87.83 H89.4 V88.47 H90.7 V89.1 H91.23 V90.5 H91.77 V91.9 H92.3 V93.3 H92.83 V94.7 H93.37 V96.1 H93.9 V97.5 H94.55 V98.8 H95.2 V100.1 H95.85 V101.4 H96.5 V102.7 H99.1 H100.55 V103.17 H102 V103.65 H103.45 V104.12 H104.9 V104.6 H105.68 V105.9 H106.46 V107.2 H107.24 V108.5 H108.02 V109.8 H108.8 V111.1 H110.1 V111.73 H111.4 V112.37 H112.7 V113 H113.95 V114.25 H115.2 V115.5 H116.47 V116.8 H117.73 V118.1 H119 V119.4 H126.8 H128.1 V120.05 H129.4 V120.7 H130.7 V121.13 H132 V121.57 H133.3 V122 H134.6 V122.65 H135.9 V123.3 H137.2 V123.93 H138.5 V124.57 H139.8 V125.2 H144.9 V125.9 H145.55 V127.5 H146.2 V129.1 H147.5 V130.17 H148.8 V131.23 H150.1 V132.3 H151.4 V132.73 H152.7 V133.17 H154 V133.6 H157.9 V134.4 H170.4 H170.77 V135.67 H171.13 V136.93 H171.5 V138.2 H183.1 H183.5 V140.4 H200.6 H201 V142.9 H216.5 H216.8 V151 H226.8 V163.3" fill="none" stroke="#204b74" stroke-width="1.35" stroke-linejoin="miter" stroke-linecap="butt"/>
<path d="M317.6 27.4 H322.8 H324.05 V27.8 H325.3 V28.2 H326.4 V28.5 H327.5 V28.8 H328.6 V29.1 H330.1 V29.97 H331.6 V30.83 H333.1 V31.7 H334.7 V33 H336.3 V34.3 H339.6 V34.9 H340.55 V36.2 H341.5 V37.5 H341.93 V38.8 H342.37 V40.1 H342.8 V41.4 H344.1 V42.35 H345.4 V43.3 H347 V43.95 H348.6 V44.6 H349.9 V45.9 H351.2 V47.2 H352.5 V48.5 H353.37 V49.6 H354.23 V50.7 H355.1 V51.8 H356.7 V52.4 H358.3 V53 H359.6 V53.65 H360.9 V54.3 H361.3 V55.6 H361.7 V56.9 H362.1 V58.2 H362.5 V59.5 H362.9 V60.8 H363.77 V62.1 H364.63 V63.4 H365.5 V64.7 H366.57 V66 H367.63 V67.3 H368.7 V68.6 H370 V70 H371.3 V71.4 H372.6 V72.8 H373.9 V74.4 H375.2 V76 H376.27 V77.1 H377.33 V78.2 H378.4 V79.3 H380 V80.6 H381.6 V81.9 H382.9 V82.53 H384.2 V83.17 H385.5 V83.8 H386.8 V85.1 H388.1 V86.4 H389.1 V87.35 H390.1 V88.3 H395.9 V89 H397.8 V90.9 H399.1 V91.9 H400.4 V92.9 H401.7 V93.33 H403 V93.77 H404.3 V94.2 H405.8 V94.63 H407.3 V95.07 H408.8 V95.5 H410.1 V95.9 H411.4 V96.3 H412.7 V96.7 H414 V98 H415.3 V99.3 H421.1 V100 H425.6 V100.9 H426.73 V101.2 H427.87 V101.5 H429 V101.8 H430.35 V102.7 H431.7 V103.6 H432.83 V103.9 H433.97 V104.2 H435.1 V104.5 H436.23 V105.4 H437.37 V106.3 H438.5 V107.2 H446.5 H446.92 V108.42 H447.34 V109.64 H447.76 V110.86 H448.18 V112.08 H448.6 V113.3 H453.3 H453.9 V116.2 H461.3 H462 V125 H478.2 V132.1 H488.9 V163.3" fill="none" stroke="#bf1e42" stroke-width="1.35" stroke-linejoin="miter" stroke-linecap="butt"/>
<path d="M317.6 27.4 H322.8 H324.05 V27.8 H325.3 V28.2 H326.4 V28.5 H327.5 V28.8 H328.6 V29.1 H330.2 V30.1 H331.8 V31.1 H333.1 V31.7 H334.4 V32.3 H337.6 V33 H338.7 V33.43 H339.8 V33.87 H340.9 V34.3 H346 V34.9 H347.3 V35.55 H348.6 V36.2 H349.03 V37.5 H349.47 V38.8 H349.9 V40.1 H351.2 V41.1 H352.5 V42.1 H353.8 V42.7 H355.1 V43.3 H355.97 V44.6 H356.83 V45.9 H357.7 V47.2 H359 V48.2 H360.3 V49.2 H361.6 V49.83 H362.9 V50.47 H364.2 V51.1 H365.47 V51.53 H366.73 V51.97 H368 V52.4 H369.3 V53.35 H370.6 V54.3 H375.2 H375.8 V57.9 H376.9 V58.57 H378 V59.23 H379.1 V59.9 H380.35 V61.2 H381.6 V62.5 H382.9 V63.8 H384.2 V65.1 H385.5 V65.73 H386.8 V66.37 H388.1 V67 H389.7 V68.3 H391.3 V69.6 H392.6 V70.9 H393.9 V72.2 H394.33 V73.7 H394.77 V75.2 H395.2 V76.7 H396.5 V78.3 H397.8 V79.9 H398.87 V81 H399.93 V82.1 H401 V83.2 H401.87 V84.47 H402.73 V85.73 H403.6 V87 H408.2 V87.7 H409.5 V89.6 H410.45 V90.6 H411.4 V91.6 H421.7 H423 V93.2 H424.3 V94.8 H425.65 V95.8 H427 V96.8 H428.4 V97.8 H431.1 H431.75 V99.15 H432.4 V100.5 H433.75 V101.85 H435.1 V103.2 H451.9 H452.6 V104.65 H453.3 V106.1 H468.7 H469.4 V112.6 H476.1 H476.8 V125 H504" fill="none" stroke="#204b74" stroke-width="1.35" stroke-linejoin="miter" stroke-linecap="butt"/>
<path d="M56.7 262.1 V266.6 H64.2 V277.4 H68 V282.8 H71.8 V287.6 H75.6 V293 H79.3 V303.9 H89.2 V309.1 H100.5 V314.2 H104.2 V318.9 H105.7 V322 H106.8 V326.1 H108.3 V330.3 H110.4 V336.4 H128.3 V342.2 H135.6 V347.8 H145.3 V348.3 H148.5 V353.2 H154.6 V358.7 H177.7 V366.1 H189.2 V376.8 H244 V397.4" fill="none" stroke="#bf1e42" stroke-width="1.35" stroke-linejoin="miter" stroke-linecap="butt"/>
<path d="M56.7 262.1 H63.2 V265.5 H66.9 V268.8 H72.3 V277.2 H77.5 V283.9 H80.9 V288.4 H86.4 V296 H91.8 V300.3 H93.3 V304.9 H94.3 V309.1 H96.4 V316.8 H103.9 V318.9 H105.7 V322 H106.8 V326.1 H108.3 V330.3 H110.4 V335.1 H119.2 V339.2 H136.3 V343.8 H145.4 V348.1 H150.2 V356.8 H156.3 V361.5 H171.3 V366.7 H200.2 V373.1 H216.3 V380.6 H217.5 V389.2 H222.1" fill="none" stroke="#204b74" stroke-width="1.35" stroke-linejoin="miter" stroke-linecap="butt"/>
<path d="M318.4 261.7 H328.5 V267.1 H340.3 V272.2 H354 V277.2 H361.4 V282.6 H362.1 V287.3 H366.1 V292 H370.2 V294 H374.2 V298.4 H379.7 V303.1 H383.3 V308.3 H397.9 V314 H410 V318.7 H414 V324.5 H422.1 V330 H439.2 V341.6 H489.2 V397.6" fill="none" stroke="#bf1e42" stroke-width="1.35" stroke-linejoin="miter" stroke-linecap="butt"/>
<path d="M318.4 261.7 H339 V265.1 H348 V269.1 H351.1 V272.5 H354 V274.9 H356 V277.2 H368.2 V281.2 H379.3 V285.1 H388.5 V289.1 H393.8 V301 H399.6 V305.3 H403.3 V309.3 H409.3 V313.6 H422.1 V317.4 H432.1 V321.9 H435.1 V327.1 H477.1 V362.1 H479.8" fill="none" stroke="#204b74" stroke-width="1.35" stroke-linejoin="miter" stroke-linecap="butt"/>
<line x1="161.7" y1="132.8" x2="161.7" y2="136" stroke="#204b74" stroke-width="1"/>
<line x1="166.3" y1="132.8" x2="166.3" y2="136" stroke="#204b74" stroke-width="1"/>
<line x1="188.3" y1="138.8" x2="188.3" y2="142" stroke="#204b74" stroke-width="1"/>
<line x1="196.9" y1="138.8" x2="196.9" y2="142" stroke="#204b74" stroke-width="1"/>
<line x1="213.3" y1="141.3" x2="213.3" y2="144.5" stroke="#204b74" stroke-width="1"/>
<line x1="438.5" y1="101.6" x2="438.5" y2="104.8" stroke="#204b74" stroke-width="1"/>
<line x1="442.5" y1="101.6" x2="442.5" y2="104.8" stroke="#204b74" stroke-width="1"/>
<line x1="447.2" y1="101.6" x2="447.2" y2="104.8" stroke="#204b74" stroke-width="1"/>
<line x1="450.6" y1="101.6" x2="450.6" y2="104.8" stroke="#204b74" stroke-width="1"/>
<line x1="458" y1="104.5" x2="458" y2="107.7" stroke="#204b74" stroke-width="1"/>
<line x1="460.7" y1="104.5" x2="460.7" y2="107.7" stroke="#204b74" stroke-width="1"/>
<line x1="464" y1="104.5" x2="464" y2="107.7" stroke="#204b74" stroke-width="1"/>
<line x1="466" y1="104.5" x2="466" y2="107.7" stroke="#204b74" stroke-width="1"/>
<line x1="471.4" y1="111" x2="471.4" y2="114.2" stroke="#204b74" stroke-width="1"/>
<line x1="474.1" y1="111" x2="474.1" y2="114.2" stroke="#204b74" stroke-width="1"/>
<line x1="504" y1="123.4" x2="504" y2="126.6" stroke="#204b74" stroke-width="1"/>
<line x1="443.5" y1="325.5" x2="443.5" y2="328.7" stroke="#204b74" stroke-width="1"/>
<line x1="454.2" y1="325.5" x2="454.2" y2="328.7" stroke="#204b74" stroke-width="1"/>
<line x1="455.6" y1="325.5" x2="455.6" y2="328.7" stroke="#204b74" stroke-width="1"/>
<line x1="459.6" y1="325.5" x2="459.6" y2="328.7" stroke="#204b74" stroke-width="1"/>
<line x1="463.6" y1="325.5" x2="463.6" y2="328.7" stroke="#204b74" stroke-width="1"/>
<line x1="467" y1="325.5" x2="467" y2="328.7" stroke="#204b74" stroke-width="1"/>
<line x1="470.4" y1="325.5" x2="470.4" y2="328.7" stroke="#204b74" stroke-width="1"/>
<line x1="473.1" y1="325.5" x2="473.1" y2="328.7" stroke="#204b74" stroke-width="1"/>
<line x1="479.8" y1="360.5" x2="479.8" y2="363.7" stroke="#204b74" stroke-width="1"/>
<line x1="222.1" y1="387.6" x2="222.1" y2="390.8" stroke="#204b74" stroke-width="1"/>
<line x1="166.7" y1="359.9" x2="166.7" y2="363.1" stroke="#204b74" stroke-width="1"/>
<line x1="197.9" y1="365.1" x2="197.9" y2="368.3" stroke="#204b74" stroke-width="1"/>
<line x1="203.6" y1="371.5" x2="203.6" y2="374.7" stroke="#204b74" stroke-width="1"/>
<line x1="196.3" y1="144.8" x2="196.3" y2="148" stroke="#bf1e42" stroke-width="1"/>
<line x1="223" y1="144.8" x2="223" y2="148" stroke="#bf1e42" stroke-width="1"/>
<line x1="232.4" y1="144.8" x2="232.4" y2="148" stroke="#bf1e42" stroke-width="1"/>
<line x1="242" y1="144.8" x2="242" y2="148" stroke="#bf1e42" stroke-width="1"/>
<line x1="445.2" y1="105.6" x2="445.2" y2="108.8" stroke="#bf1e42" stroke-width="1"/>
<line x1="457.3" y1="114.6" x2="457.3" y2="117.8" stroke="#bf1e42" stroke-width="1"/>
<line x1="468.1" y1="123.4" x2="468.1" y2="126.6" stroke="#bf1e42" stroke-width="1"/>
<line x1="472.8" y1="123.4" x2="472.8" y2="126.6" stroke="#bf1e42" stroke-width="1"/>
<line x1="483.5" y1="130.5" x2="483.5" y2="133.7" stroke="#bf1e42" stroke-width="1"/>
<line x1="432" y1="328.4" x2="432" y2="331.6" stroke="#bf1e42" stroke-width="1"/>
<line x1="446.2" y1="340" x2="446.2" y2="343.2" stroke="#bf1e42" stroke-width="1"/>
<line x1="479.1" y1="340" x2="479.1" y2="343.2" stroke="#bf1e42" stroke-width="1"/>
<line x1="173.6" y1="357.1" x2="173.6" y2="360.3" stroke="#bf1e42" stroke-width="1"/>
<line x1="418" y1="322.9" x2="418" y2="326.1" stroke="#bf1e42" stroke-width="1"/>
<rect x="0" y="0" width="520" height="1.1" fill="#4d4d4d"/>
<rect x="0" y="462.6" width="520" height="1.4" fill="#4d4d4d"/>
<rect x="0" y="0" width="1.15" height="464" fill="#4d4d4d"/>
<rect x="518.75" y="0" width="1.25" height="464" fill="#4d4d4d"/>
</svg>
</body></html>
